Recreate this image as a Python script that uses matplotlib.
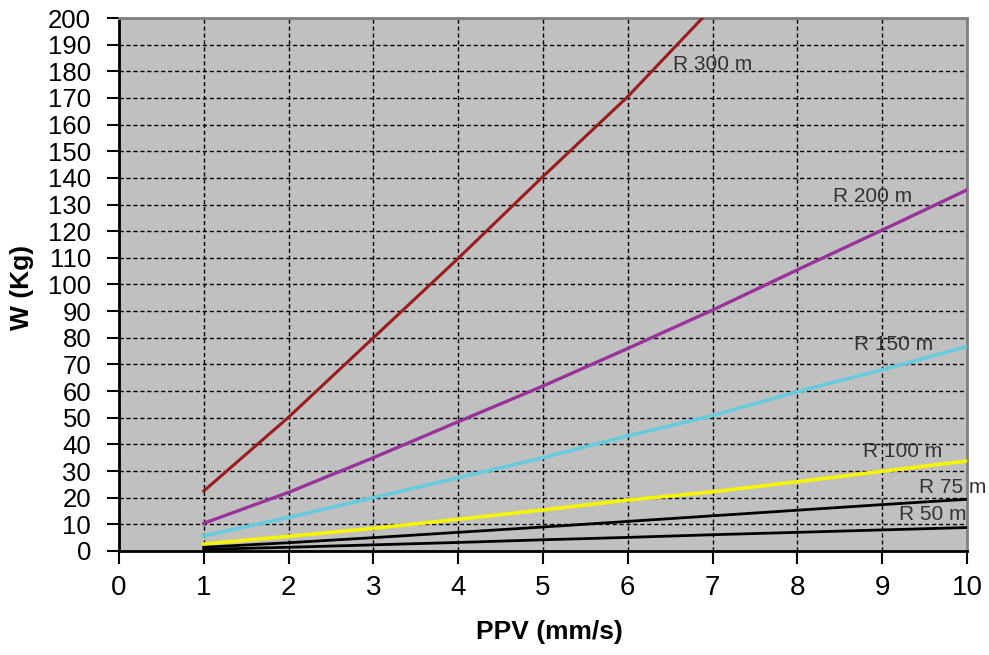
import matplotlib
matplotlib.use("Agg")
import matplotlib.pyplot as plt

plt.rcParams['font.family'] = ['Liberation Sans', 'DejaVu Sans']

ppv = [1, 2, 3, 4, 5, 6, 7, 8, 9, 10]
ppv_r300 = [1, 2, 3, 4, 5, 6, 7]
w_r300 = [22.5, 50.2, 80.0, 109.8, 140.5, 170.5, 204.0]
w_r200 = [10.4, 22.0, 35.0, 48.5, 61.9, 76.0, 90.4, 105.5, 120.4, 135.5]
w_r150 = [5.7, 12.6, 20.0, 27.5, 35.0, 43.2, 50.8, 59.8, 68.0, 76.7]
w_r100 = [2.6, 5.5, 8.5, 11.9, 15.4, 19.1, 22.2, 26.0, 29.9, 33.8]
w_r75 = [1.4, 3.1, 5.0, 7.0, 9.0, 11.1, 13.2, 15.3, 17.4, 19.4]
w_r50 = [0.6, 1.4, 2.3, 3.2, 4.2, 5.1, 6.1, 7.0, 7.9, 8.8]

labels = ["R 300 m", "R 200 m", "R 150 m", "R 100 m", "R 75 m", "R 50 m"]
label_x = [6.53, 8.42, 8.67, 8.77, 9.43, 9.2]
label_y = [182.5, 133.0, 77.5, 37.3, 23.8, 13.7]

x_ticks = list(range(0, 11))
y_ticks = list(range(0, 201, 10))

fig = plt.figure(figsize=(9.89, 6.55), dpi=100)
ax = fig.add_axes([0.1203, 0.1588, 0.8574, 0.8137])
ax.set_facecolor('#C0C0C0')

ax.plot(ppv_r300, w_r300, color='#9B1C1C', lw=2.2, zorder=3)
ax.plot(ppv, w_r200, color='#993399', lw=2.4, zorder=3)
ax.plot(ppv, w_r150, color='#66CCDD', lw=2.6, zorder=3)
ax.plot(ppv, w_r100, color='#F5F500', lw=2.6, zorder=3)
ax.plot(ppv, w_r75, color='#000000', lw=2.0, zorder=3)
ax.plot(ppv, w_r50, color='#000000', lw=2.0, zorder=3)

for t, lx, ly in zip(labels, label_x, label_y):
    ax.text(lx, ly, t, fontsize=15, color='#333333', ha='left', va='center',
            zorder=4, clip_on=False)

ax.set_xlim(0, 10)
ax.set_ylim(0, 200)
ax.set_xticks(x_ticks)
ax.set_yticks(y_ticks)
ax.tick_params(axis='both', length=9, width=1.5, direction='out', color='black')
ax.tick_params(axis='x', labelsize=20, pad=8)
ax.tick_params(axis='y', labelsize=18.5, pad=11)

ax.grid(True, color='black', linestyle=(0, (3, 2)), linewidth=1.0, zorder=1)
ax.set_axisbelow(True)

for s in ['left', 'bottom']:
    ax.spines[s].set_color('black')
    ax.spines[s].set_linewidth(2.0)
for s in ['top', 'right']:
    ax.spines[s].set_color('#808080')
    ax.spines[s].set_linewidth(2.0)

fig.text(0.556, 0.035, "PPV (mm/s)", fontsize=19, fontweight='bold',
         ha='center', va='center')
fig.text(0.022, 0.5618, "W (Kg)", fontsize=19, fontweight='bold',
         ha='center', va='center', rotation=90)

fig.savefig("out.png", dpi=100)
